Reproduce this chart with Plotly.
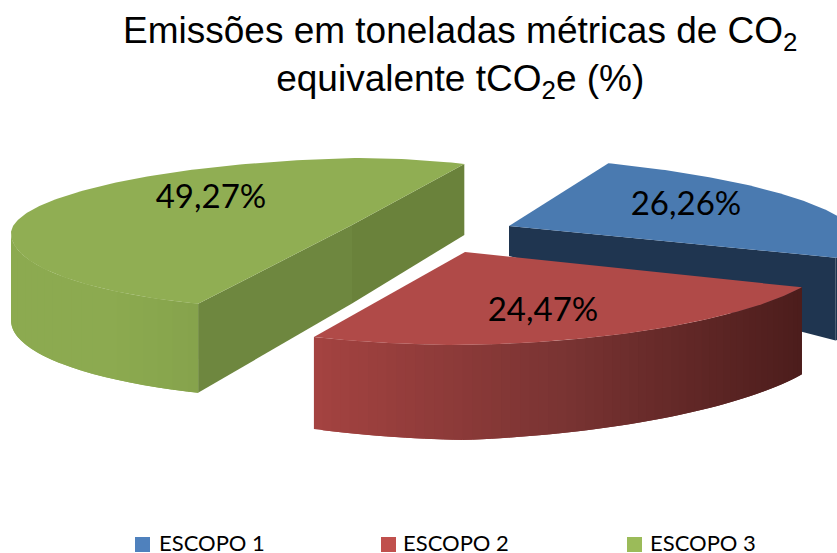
import numpy as np
import plotly.graph_objects as go

categories = ["ESCOPO 1", "ESCOPO 2", "ESCOPO 3"]
values = [26.26, 24.47, 49.27]
legend_colors = ["#4F81BD", "#C0504D", "#9BBB59"]
top_colors = ["#4A7AB0", "#B04A48", "#90AE53"]
cut_colors = [("#1F3550", "#1F3550"), ("#7A3433", "#7A3433"), ("#6E873F", "#6A823B")]
title_text = "Emissões em toneladas métricas de CO<sub>2</sub><br>equivalente tCO<sub>2</sub>e (%)"

START_ANGLE = 73.5
# per-slice projection of the exploded 3D pie (pixels)
geom = [
    dict(ox=509, oy=226, a_r=350, a_l=350, bb=70, bf=49, rot=0.0, tilt_r=0.043, tilt_l=0.0,
         depth=((509, 30), (837, 83)), label=(686, 207), cuts=(False, True)),
    dict(ox=465, oy=252, a_r=374, a_l=374, bb=90, bf=93, rot=-4.7, tilt_r=-0.015, tilt_l=0.0,
         depth=((314, 92), (465, 95), (803, 87)), label=(543, 313), cuts=(False, False)),
    dict(ox=352, oy=225, a_r=274, a_l=341, bb=67, bf=84, rot=-7.7, tilt_r=0.0, tilt_l=0.025,
         depth=((12, 87), (196, 89), (465, 71)), label=(211, 200), cuts=(True, True)),
]
wall_stops = [
    [(0, "#1F3550"), (1, "#1F3550")],
    [(0, "#A44341"), (0.5, "#7A3433"), (1, "#4C1D1C")],
    [(0, "#8CAB50"), (0.5, "#8CAA50"), (1, "#86A34C")],
]
legend_pos = [(142.5, 159), (388.5, 403), (634.5, 650)]
LEGEND_MARK_Y = 544.5
LEGEND_TEXT_Y = 545.5

W, H = 837, 553


def hex_rgb(c):
    return np.array([int(c[i:i + 2], 16) for i in (1, 3, 5)], float)


def mix(stops, t):
    ts = [s[0] for s in stops]
    rgb = [np.interp(t, ts, [hex_rgb(s[1])[k] for s in stops]) for k in range(3)]
    return "rgb(%d,%d,%d)" % tuple(rgb)


def project(g, ang):
    ang = np.radians(ang)
    c, s = np.cos(ang), np.sin(ang)
    dx = np.where(c >= 0, g["a_r"], g["a_l"]) * c
    y = g["oy"] - np.where(s >= 0, g["bb"], g["bf"]) * s
    y = y + g["tilt_r"] * np.maximum(dx, 0) + g["tilt_l"] * np.maximum(-dx, 0)
    return g["ox"] + dx, y


def depth(g, x):
    xs, ds = zip(*g["depth"])
    return np.interp(x, xs, ds)


def poly(fig, x, y, color):
    fig.add_trace(go.Scatter(x=list(x), y=list(y), mode="lines", fill="toself", fillcolor=color,
                             line=dict(color=color, width=0), hoverinfo="skip", showlegend=False))


fig = go.Figure()
shares = np.array(values) / sum(values) * 360
starts = START_ANGLE - np.concatenate([[0], np.cumsum(shares)[:-1]])

for i in (0, 2, 1):
    g = geom[i]
    a0 = starts[i] + g["rot"]
    a1 = a0 - shares[i]
    ang = np.linspace(a0, a1, 181)
    ax, ay = project(g, ang)
    # straight cut walls
    for j, (px, py) in enumerate(((ax[0], ay[0]), (ax[-1], ay[-1]))):
        if g["cuts"][j]:
            xs = [g["ox"], px, px, g["ox"]]
            ys = [g["oy"], py, py + depth(g, px), g["oy"] + depth(g, g["ox"])]
            poly(fig, xs, ys, cut_colors[i][j])
    # outer curved wall, only where it faces the viewer (lower half of the ellipse)
    front = np.sin(np.radians(ang)) <= 0.02
    fx, fy = ax[front], ay[front]
    order = np.argsort(fx)
    fx, fy = fx[order], fy[order]
    lo, hi = fx.min(), fx.max()
    step = 3
    for k in range(0, len(fx) - 1, step):
        e = min(k + 2 * step, len(fx) - 1)
        t = (fx[k] - lo) / max(hi - lo, 1)
        sx = fx[k:e + 1]
        sy = fy[k:e + 1]
        xs = [*sx, *sx[::-1]]
        ys = [*sy, *(sy + depth(g, sx))[::-1]]
        poly(fig, xs, ys, mix(wall_stops[i], t))
    # top face
    poly(fig, [g["ox"], *ax, g["ox"]], [g["oy"], *ay, g["oy"]], top_colors[i])

for i in range(3):
    fig.add_trace(go.Scatter(x=[geom[i]["label"][0]], y=[geom[i]["label"][1]], mode="text",
                             text=[f"{values[i]:.2f}%".replace(".", ",")],
                             textfont=dict(family="Lato", size=33, color="black"),
                             textposition="middle center", hoverinfo="skip", showlegend=False))

for i, cat in enumerate(categories):
    fig.add_trace(go.Scatter(x=[legend_pos[i][0]], y=[LEGEND_MARK_Y], mode="markers", hoverinfo="skip", showlegend=False,
                             marker=dict(symbol="square", size=15, color=legend_colors[i], line=dict(width=0))))
    fig.add_trace(go.Scatter(x=[legend_pos[i][1]], y=[LEGEND_TEXT_Y], mode="text", text=[cat],
                             textposition="middle right", hoverinfo="skip", showlegend=False,
                             textfont=dict(family="Lato", size=22, color="black")))

fig.add_annotation(text=title_text, xref="paper", yref="paper", x=460 / W, y=1 - 8 / H, xanchor="center",
                   yanchor="top", showarrow=False, align="center",
                   font=dict(family="Liberation Sans", size=37, color="black"))

fig.update_layout(
    width=W, height=H, autosize=False,
    margin=dict(l=0, r=0, t=0, b=0),
    paper_bgcolor="white", plot_bgcolor="white", showlegend=False,
    xaxis=dict(range=[0, W], visible=False, fixedrange=True),
    yaxis=dict(range=[H, 0], visible=False, fixedrange=True),
)
fig.write_html("out.html", config=dict(displayModeBar=False),
               post_script="document.body.style.margin='0';")
